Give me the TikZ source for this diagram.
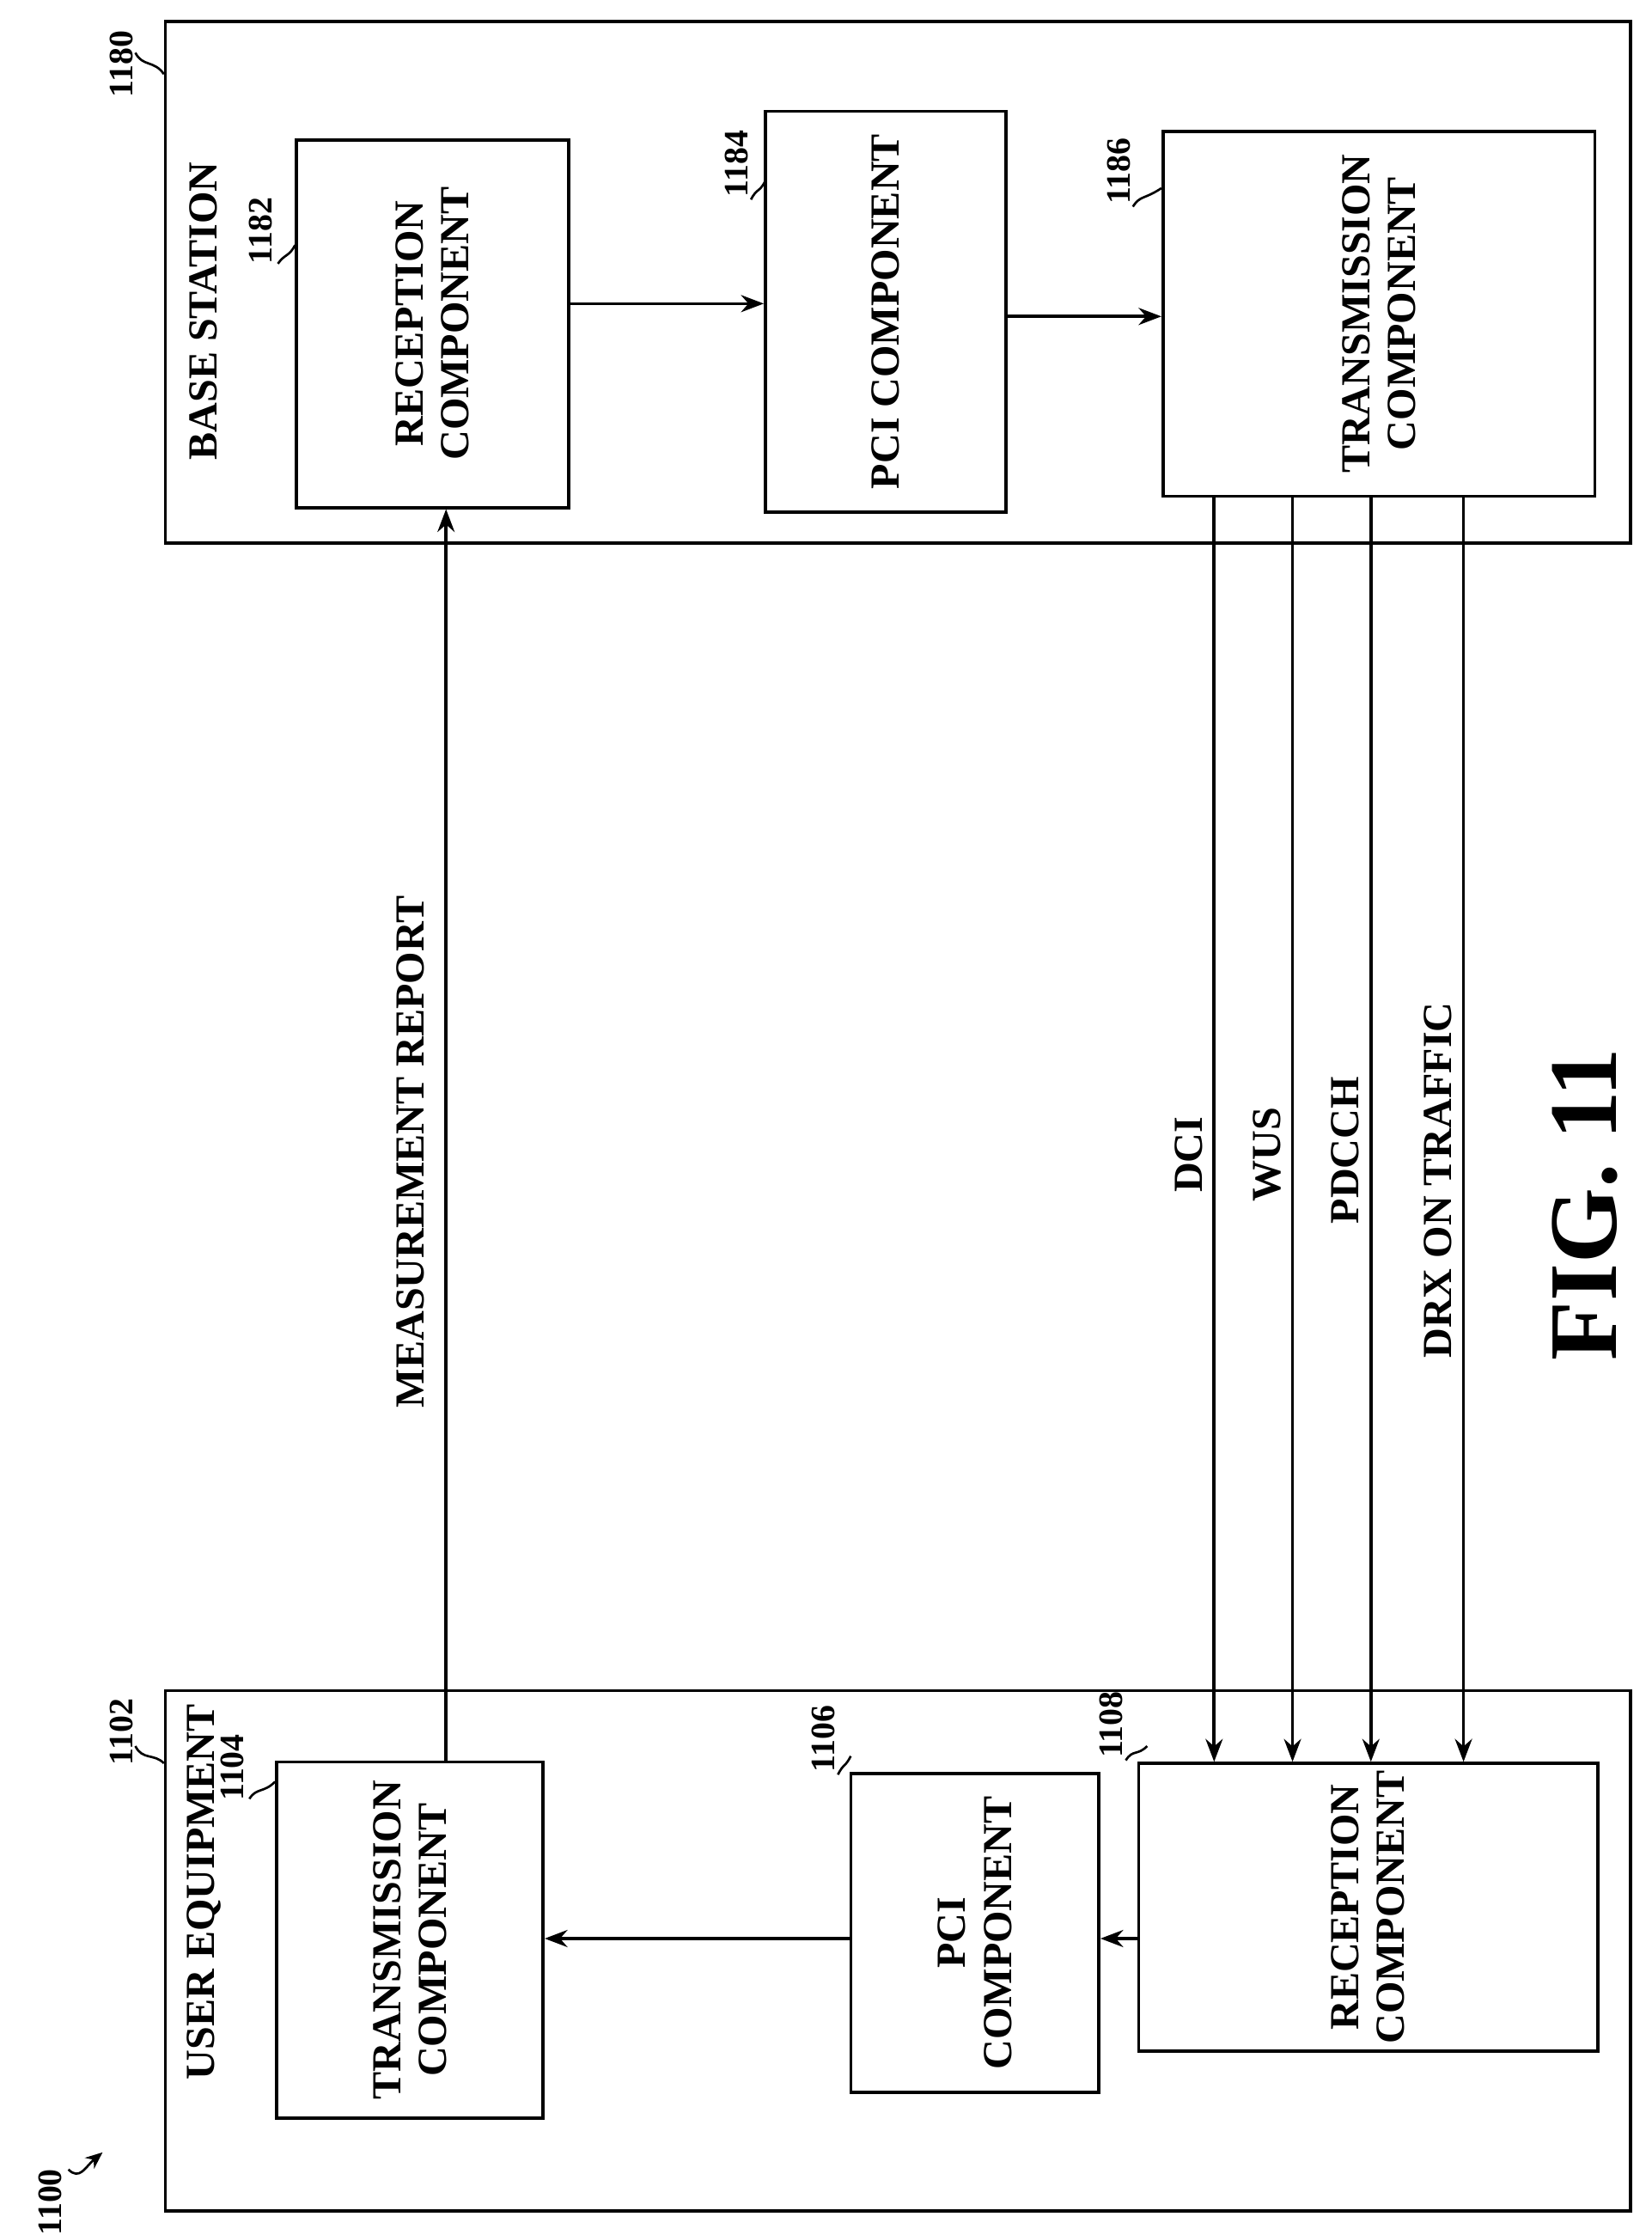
\documentclass[tikz,border=0pt]{standalone}
\usepackage{fontspec}
\setmainfont{Liberation Serif}
\usetikzlibrary{arrows.meta}
\begin{document}
\begin{tikzpicture}[x=1pt,y=-1pt,
 box/.style={draw,line width=2.2pt},
 lbl/.style={font=\fontsize{29}{32}\selectfont\bfseries,align=center,rotate=90},
 num/.style={font=\fontsize{24}{28}\selectfont\bfseries,rotate=90},
 arr/.style={line width=2.2pt,-{Stealth[length=16pt,width=12pt]}},
 lead/.style={line width=1.6pt}]
\useasboundingbox (0,0) rectangle (1159,1568);
% base station
\node[box,minimum width=1028,minimum height=366,anchor=north west] (bs) at (115,14) {};
\node[box,minimum width=191,minimum height=258,anchor=north west] (rc1) at (207,97) {};
\node[lbl] at (rc1.center) {RECEPTION\\COMPONENT};
\node[box,minimum width=169,minimum height=281,anchor=north west] (pci1) at (536,77) {};
\node[lbl] at (pci1.center) {PCI COMPONENT};
\node[box,minimum width=303,minimum height=256,anchor=north west] (tc1) at (815,91) {};
\node[lbl] at (tc1.center) {TRANSMISSION\\COMPONENT};
\node[lbl,anchor=east] (bst) at (143,110) {BASE STATION};
% UE
\node[box,minimum width=1028,minimum height=365,anchor=north west] (ue) at (115,1185) {};
\node[box,minimum width=187,minimum height=250,anchor=north west] (tc2) at (193,1235) {};
\node[lbl] at (tc2.center) {TRANSMISSION\\COMPONENT};
\node[box,minimum width=174,minimum height=224,anchor=north west] (pci2) at (596,1243) {};
\node[lbl] at (pci2.center) {PCI\\COMPONENT};
\node[box,minimum width=322,minimum height=202,anchor=north west] (rc2) at (798,1236) {};
\node[lbl] at (rc2.center) {RECEPTION\\COMPONENT};
\node[lbl,anchor=east] (uet) at (143,1192) {USER EQUIPMENT};
% numbers
\node[num] (n1180) at (85,45) {1180};
\draw[lead] (95,37) .. controls (100,47) and (108,42) .. (115,52);
\node[num] (n1182) at (183,162) {1182};
\draw[lead] (195,185) .. controls (200,178) and (203,180) .. (207,172);
\node[num] (n1184) at (517,115) {1184};
\draw[lead] (527,140) .. controls (531,132) and (533,135) .. (537,127);
\node[num] (n1186) at (785,120) {1186};
\draw[lead] (795,145) .. controls (800,137) and (803,140) .. (815,132);
\node[num] (n1102) at (85,1215) {1102};
\draw[lead] (95,1225) .. controls (100,1235) and (108,1230) .. (115,1237);
\node[num] (n1104) at (163,1240) {1104};
\draw[lead] (175,1262) .. controls (180,1254) and (185,1258) .. (193,1250);
\node[num] (n1106) at (578,1220) {1106};
\draw[lead] (588,1245) .. controls (592,1237) and (593,1240) .. (597,1232);
\node[num] (n1108) at (780,1210) {1108};
\draw[lead] (790,1235) .. controls (795,1227) and (798,1232) .. (805,1225);
\node[num] (n1100) at (35,1545) {1100};
\draw[lead,-{Stealth[length=12pt,width=10pt]}] (48,1522) .. controls (56,1530) and (60,1520) .. (72,1510);
% arrows
\draw[arr] (rc1.east |- 0,213) -- (pci1.west |- 0,213);
\draw[arr] (pci1.east |- 0,222) -- (tc1.west |- 0,222);
\draw[arr] (rc2.west |- 0,1360) -- (pci2.east |- 0,1360);
\draw[arr] (pci2.west |- 0,1360) -- (tc2.east |- 0,1360);
\draw[arr] (tc2.north -| 313,0) -- (rc1.south -| 313,0);
\node[lbl] at (288,808) {MEASUREMENT REPORT};
\foreach \x/\t/\y in {852/DCI/810,907/WUS/810,962/PDCCH/807,1027/DRX ON TRAFFIC/828}{
 \draw[arr] (tc1.south -| \x,0) -- (rc2.north -| \x,0);
 \node[lbl] at (\x-18,\y) {\t};}
\node[rotate=90,font=\fontsize{68}{74}\selectfont\bfseries] (fig) at (1112,845) {FIG. 11};
\end{tikzpicture}
\end{document}
